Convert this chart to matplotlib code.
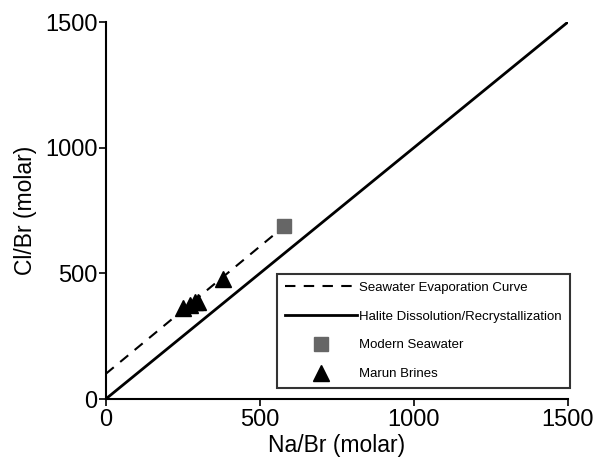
import matplotlib
matplotlib.use("Agg")
import matplotlib.pyplot as plt

plt.rcParams['font.family'] = ['Liberation Sans', 'DejaVu Sans']

# Data
halite_x = [0, 1500]
halite_y = [0, 1500]
evap_x = [0, 580]
evap_y = [100, 688]
seawater_x = [580]
seawater_y = [688]
brines_x = [250, 273, 289, 299, 380]
brines_y = [362, 374, 386, 386, 478]
ticks = [0, 500, 1000, 1500]

fig = plt.figure(figsize=(5.94, 4.70), dpi=100)
ax = fig.add_axes([0.178, 0.151, 0.778, 0.802])

ax.plot(evap_x, evap_y, color='black', linestyle=(0, (5, 4)), linewidth=1.5,
        label='Seawater Evaporation Curve', zorder=2)
ax.plot(halite_x, halite_y, color='black', linewidth=2.0,
        label='Halite Dissolution/Recrystallization', zorder=2)
ax.plot(seawater_x, seawater_y, linestyle='none', marker='s', markersize=10,
        color='#666666', label='Modern Seawater', zorder=3)
ax.plot(brines_x, brines_y, linestyle='none', marker='^', markersize=11,
        color='black', label='Marun Brines', zorder=4)

ax.set_xlim(0, 1500)
ax.set_ylim(0, 1500)
ax.set_xticks(ticks)
ax.set_yticks(ticks)
ax.tick_params(labelsize=17, length=5, width=1.2, direction='out')
ax.tick_params(axis='y', pad=1)
ax.tick_params(axis='x', pad=2)
ax.spines['top'].set_visible(False)
ax.spines['right'].set_visible(False)
ax.spines['left'].set_linewidth(1.5)
ax.spines['bottom'].set_linewidth(1.5)
ax.set_xlabel('Na/Br (molar)', fontsize=16.5, labelpad=2)
ax.set_ylabel('Cl/Br (molar)', fontsize=16.5, labelpad=6)

leg = ax.legend(loc='lower right', bbox_to_anchor=(1.004, 0.029), fontsize=9.5,
                handlelength=5.4, labelspacing=1.25, fancybox=False,
                frameon=True, edgecolor='black', borderpad=0.6,
                handletextpad=0.2, borderaxespad=0)
leg.get_frame().set_linewidth(1.5)

fig.savefig('out.png', dpi=100)
